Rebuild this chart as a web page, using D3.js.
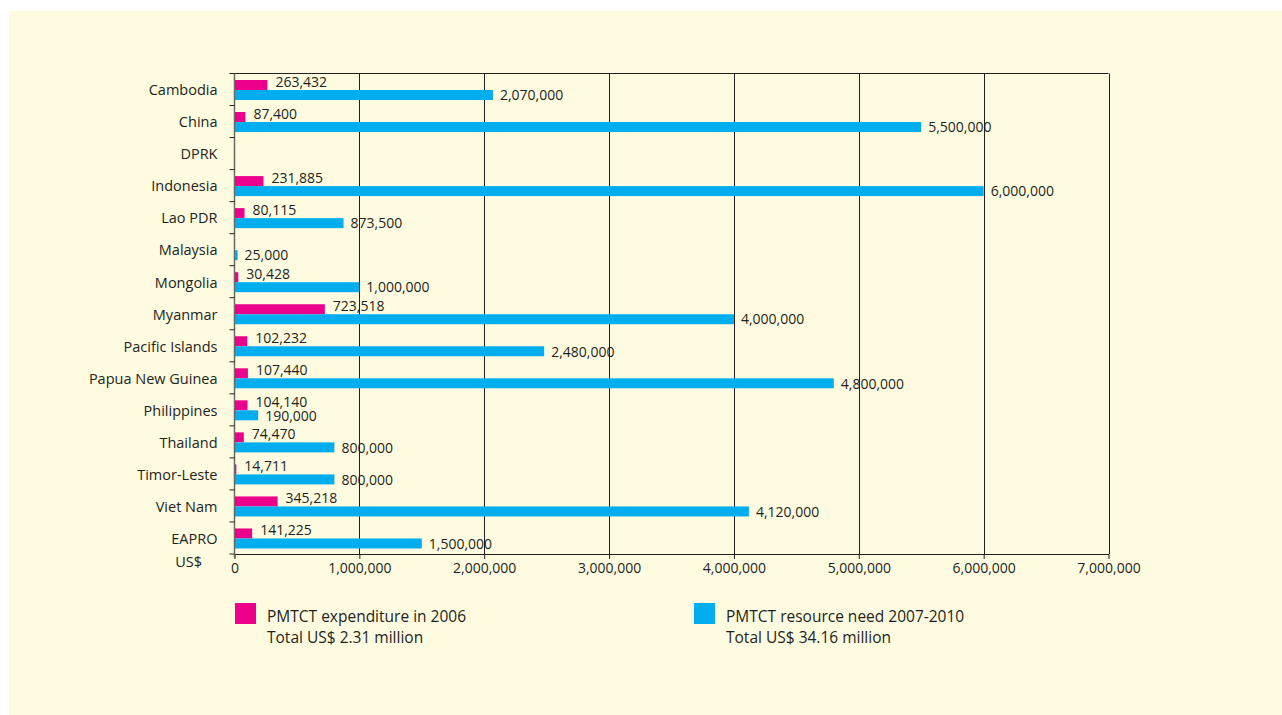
<!DOCTYPE html>
<html><head><meta charset="utf-8">
<script src="https://cdn.jsdelivr.net/npm/d3@7"></script>
<style>
html,body{margin:0;padding:0;background:#fff;}
svg{display:block;}
text{font-family:"Open Sans","Noto Sans",sans-serif;fill:#231f20;}
</style></head><body>
<svg id="c" width="1282" height="715"></svg>
<script>
const categories = ["Cambodia","China","DPRK","Indonesia","Lao PDR","Malaysia","Mongolia","Myanmar","Pacific Islands","Papua New Guinea","Philippines","Thailand","Timor-Leste","Viet Nam","EAPRO"];
const expenditure2006 = [263432,87400,null,231885,80115,null,30428,723518,102232,107440,104140,74470,14711,345218,141225];
const need20072010 = [2070000,5500000,null,6000000,873500,25000,1000000,4000000,2480000,4800000,190000,800000,800000,4120000,1500000];
const xTicks = [0,1000000,2000000,3000000,4000000,5000000,6000000,7000000];
const seriesNames = ["PMTCT expenditure in 2006","PMTCT resource need 2007-2010"];
const seriesTotals = ["Total US$ 2.31 million","Total US$ 34.16 million"];
const colors = ["#ec008c","#00aeef"];

const svg = d3.select("#c");
svg.append("rect").attr("x",9).attr("y",11).attr("width",1282-9).attr("height",715-11).attr("fill","#fefbe0");

const m = {left:234.5, right:1108.5, top:73.5, bottom:554};
const x = d3.scaleLinear().domain([0,7000000]).range([m.left,m.right]);
const y = d3.scaleBand().domain(categories).range([m.top,m.bottom]);
const inner = d3.scaleBand().domain([0,1]).range([6.5, 26.5]).paddingInner(0);
const fmt = d3.format(",");

// gridlines
svg.append("g").selectAll("line").data(xTicks.slice(1)).join("line")
  .attr("x1",d=>Math.round(x(d))+0.5).attr("x2",d=>Math.round(x(d))+0.5)
  .attr("y1",m.top).attr("y2",m.bottom)
  .attr("stroke","#231f20").attr("stroke-width",1);
svg.append("line").attr("x1",m.left).attr("x2",m.right).attr("y1",m.top).attr("y2",m.top).attr("stroke","#231f20");

// bars
const g = svg.append("g");
const series = [expenditure2006, need20072010];
series.forEach((vals,si)=>{
  g.selectAll(null).data(categories.map((c,i)=>({c,v:vals[i]})).filter(d=>d.v!=null)).join("rect")
    .attr("x",x(0)).attr("y",d=>y(d.c)+inner(si))
    .attr("width",d=>x(d.v)-x(0)).attr("height",inner.bandwidth())
    .attr("fill",colors[si]);
});
// value labels
series.forEach((vals,si)=>{
  g.selectAll(null).data(categories.map((c,i)=>({c,v:vals[i]})).filter(d=>d.v!=null)).join("text")
    .attr("x",d=>x(d.v)+(si===0?8:7))
    .attr("y",d=>y(d.c)+inner(si)+inner.bandwidth()/2+(si===0?-2:1.5))
    .attr("font-size",14).attr("dominant-baseline","middle")
    .text(d=>fmt(d.v));
});

// x axis
const xa = svg.append("g").attr("transform",`translate(0,${m.bottom})`)
  .call(d3.axisBottom(x).tickValues(xTicks).tickFormat(fmt).tickSize(5).tickSizeOuter(0));
xa.select(".domain").attr("stroke","#231f20");
xa.selectAll(".tick line").attr("stroke","#231f20");
xa.selectAll("text").attr("font-size",14).attr("dy","0.8em").style("font-family",'"Open Sans","Noto Sans",sans-serif').attr("fill","#231f20");

// y axis
const ya = svg.append("g").attr("transform",`translate(${m.left},0)`)
  .call(d3.axisLeft(y).tickSize(0).tickPadding(17));
ya.select(".domain").remove();
ya.selectAll("text").attr("font-size",14.5).style("font-family",'"Open Sans","Noto Sans",sans-serif').attr("fill","#231f20").attr("dy","0.4em");
svg.append("line").attr("x1",m.left).attr("x2",m.left).attr("y1",m.top).attr("y2",m.bottom+4).attr("stroke","#6d6a5f").attr("stroke-width",1.5);
svg.append("g").selectAll("line").data(categories.slice(1).concat(["__end"])).join("line")
  .attr("x1",m.left-5).attr("x2",m.left)
  .attr("y1",d=>d==="__end"?m.bottom:y(d)).attr("y2",d=>d==="__end"?m.bottom:y(d))
  .attr("stroke","#231f20");
svg.append("line").attr("x1",m.left-5).attr("x2",m.left).attr("y1",m.top).attr("y2",m.top).attr("stroke","#231f20");
svg.append("text").attr("x",202).attr("y",567).attr("text-anchor","end").attr("font-size",14.5).text("US$");

// legend
const lx = [235,694];
seriesNames.forEach((n,i)=>{
  const lg = svg.append("g");
  lg.append("rect").attr("x",lx[i]).attr("y",603).attr("width",21).attr("height",21).attr("fill",colors[i]);
  lg.append("text").attr("x",lx[i]+32).attr("y",622).attr("font-size",15.5).text(n);
  lg.append("text").attr("x",lx[i]+32).attr("y",643).attr("font-size",15.5).text(seriesTotals[i]);
});
</script></body></html>
